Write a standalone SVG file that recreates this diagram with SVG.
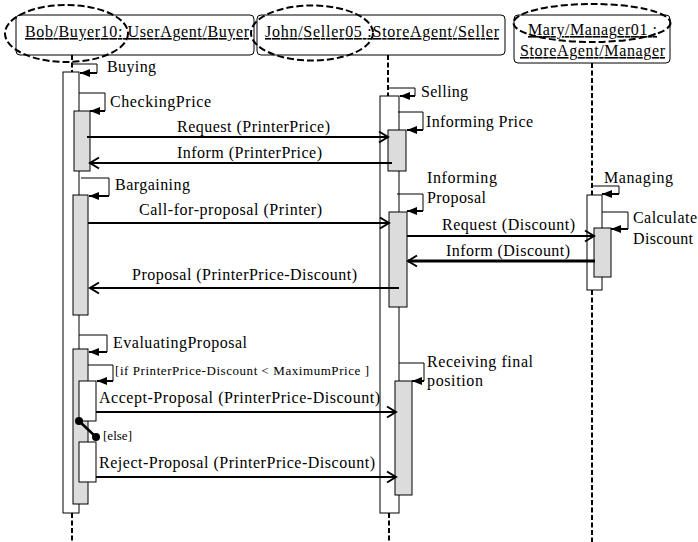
<svg xmlns="http://www.w3.org/2000/svg" width="698" height="542" viewBox="0 0 698 542">
  <style>
    text { font-family: "Liberation Serif", "DejaVu Serif", "Times New Roman", Times, serif; font-size: 16px; fill: #000; }
    .sm { font-size: 13px; }
    .hdr { text-decoration: underline; }
    .box { fill: #fff; stroke: #000; stroke-width: 1; }
    .act { fill: #fff; stroke: #000; stroke-width: 1; }
    .focus { fill: #dcdcdc; stroke: #000; stroke-width: 1; }
    .life { fill: none; stroke: #000; stroke-width: 2; stroke-dasharray: 5 2.5; }
    .oval { fill: none; stroke: #000; stroke-width: 2; stroke-dasharray: 7 3; }
    .msg { fill: none; stroke: #000; stroke-width: 2; marker-end: url(#open); }
    .self { fill: none; stroke: #000; stroke-width: 1; }
    .selfend { fill: none; stroke: #000; stroke-width: 2; marker-end: url(#solid); }
  </style>
  <defs>
    <marker id="open" markerUnits="userSpaceOnUse" markerWidth="12" markerHeight="14" refX="10" refY="7" orient="auto" overflow="visible">
      <path d="M1,1.5 L10,7 L1,12.5" fill="none" stroke="#000" stroke-width="2"/>
    </marker>
    <marker id="solid" markerUnits="userSpaceOnUse" markerWidth="10" markerHeight="8" refX="10" refY="4" orient="auto" overflow="visible">
      <path d="M0,0 L10,4 L0,8 z" fill="#000"/>
    </marker>
  </defs>

  <!-- Buyer lifeline -->
  <g id="buyer">
    <rect class="box" x="16" y="15" width="238" height="40" rx="4"/>
    <text class="hdr" x="25" y="37" textLength="224" font-family="Liberation Serif, serif">Bob/Buyer10: UserAgent/Buyer</text>
    <ellipse class="oval" cx="66.5" cy="33.5" rx="61.5" ry="28.5"/>
    <line class="life" x1="72" y1="55" x2="72" y2="72"/>
    <line class="life" x1="72" y1="513" x2="72" y2="542"/>
    <rect class="act" x="63" y="72" width="16" height="441"/>
    <rect class="focus" x="74" y="111" width="16" height="60"/>
    <rect class="focus" x="73" y="195" width="15" height="120"/>
    <rect class="focus" x="73" y="349" width="15" height="155"/>
    <rect class="act" x="79" y="381" width="17" height="40"/>
    <rect class="act" x="79" y="442" width="17" height="40"/>
  </g>

  <!-- Seller lifeline -->
  <g id="seller">
    <rect class="box" x="257" y="15" width="248" height="40" rx="4"/>
    <text class="hdr" x="265" y="37" textLength="234">John/Seller05 :StoreAgent/Seller</text>
    <ellipse class="oval" cx="312" cy="33" rx="61" ry="27.5"/>
    <line class="life" x1="388" y1="55" x2="388" y2="96"/>
    <line class="life" x1="389" y1="513" x2="389" y2="542"/>
    <rect class="act" x="380" y="96" width="19" height="417"/>
    <rect class="focus" x="388" y="130" width="18" height="41"/>
    <rect class="focus" x="389" y="212" width="18" height="95"/>
    <rect class="focus" x="395" y="381" width="17" height="114"/>
  </g>

  <!-- Manager lifeline -->
  <g id="manager">
    <rect class="box" x="514" y="15" width="156" height="48" rx="4"/>
    <text class="hdr" x="528" y="35" textLength="129">Mary/Manager01 :</text>
    <text class="hdr" x="520" y="56" textLength="145">StoreAgent/Manager</text>
    <ellipse class="oval" cx="592" cy="23" rx="78.5" ry="19"/>
    <line class="life" x1="592" y1="63" x2="592" y2="195"/>
    <line class="life" x1="592" y1="290" x2="592" y2="542"/>
    <rect class="act" x="587" y="195" width="15" height="95"/>
    <rect class="focus" x="594" y="228" width="17" height="49"/>
  </g>

  <!-- Messages and self-calls -->
  <g id="connectors">
    <!-- Buyer self-calls -->
    <polyline class="self" points="72,64 97,64 97,73"/>
    <line class="selfend" x1="97" y1="73" x2="80" y2="73"/>
    <polyline class="self" points="79,93 105,93 105,111"/>
    <line class="selfend" x1="105" y1="111" x2="90" y2="111"/>
    <polyline class="self" points="81,178 109,178 109,196"/>
    <line class="selfend" x1="109" y1="196" x2="89" y2="196"/>
    <polyline class="self" points="79,335 107,335 107,352"/>
    <line class="selfend" x1="107" y1="352" x2="89" y2="352"/>
    <polyline class="self" points="88,365 113,365 113,381"/>
    <line class="selfend" x1="113" y1="381" x2="97" y2="381"/>

    <!-- Seller self-calls -->
    <polyline class="self" points="388,88 415,88 415,96"/>
    <line class="selfend" x1="415" y1="96" x2="400" y2="96"/>
    <polyline class="self" points="398,112 423,112 423,130"/>
    <line class="selfend" x1="423" y1="130" x2="407" y2="130"/>
    <polyline class="self" points="397,194 423,194 423,211"/>
    <line class="selfend" x1="423" y1="211" x2="407" y2="211"/>
    <polyline class="self" points="399,363 424,363 424,381"/>
    <line class="selfend" x1="424" y1="381" x2="412" y2="381"/>

    <!-- Manager self-calls -->
    <polyline class="self" points="592,186 619,186 619,194"/>
    <line class="selfend" x1="619" y1="194" x2="602" y2="194"/>
    <polyline class="self" points="602,212 628,212 628,229"/>
    <line class="selfend" x1="628" y1="229" x2="611" y2="229"/>

    <!-- Messages between agents -->
    <line class="msg" x1="87" y1="137" x2="388" y2="137"/>
    <line class="msg" x1="392" y1="163" x2="90" y2="163"/>
    <line class="msg" x1="88" y1="223" x2="389" y2="223"/>
    <line class="msg" x1="407" y1="236" x2="594" y2="236"/>
    <line class="msg" x1="595" y1="261" x2="408" y2="261" style="stroke-width:3"/>
    <line class="msg" x1="399" y1="288" x2="90" y2="288"/>
    <line class="msg" x1="96" y1="412" x2="396" y2="412"/>
    <line class="msg" x1="96" y1="477" x2="396" y2="477"/>

    <!-- Branch between accept and reject -->
    <line x1="79" y1="421" x2="96" y2="437" stroke="#000" stroke-width="2.5"/>
    <circle cx="79" cy="421" r="4" fill="#000"/>
    <circle cx="96" cy="437" r="4" fill="#000"/>
  </g>

  <!-- Labels -->
  <g id="labels">
    <text x="107" y="72" textLength="49">Buying</text>
    <text x="110" y="107" textLength="101">CheckingPrice</text>
    <text x="177" y="132" textLength="153">Request (PrinterPrice)</text>
    <text x="177" y="158" textLength="145">Inform (PrinterPrice)</text>
    <text x="115" y="190" textLength="75">Bargaining</text>
    <text x="139" y="215" textLength="183">Call-for-proposal (Printer)</text>
    <text x="132" y="280" textLength="225">Proposal (PrinterPrice-Discount)</text>
    <text x="421" y="97" textLength="47">Selling</text>
    <text x="426" y="127" textLength="107">Informing Price</text>
    <text x="427" y="183" textLength="70">Informing</text>
    <text x="427" y="203" textLength="59">Proposal</text>
    <text x="604" y="183" textLength="69">Managing</text>
    <text x="633" y="223" textLength="64">Calculate</text>
    <text x="633" y="244" textLength="60">Discount</text>
    <text x="442" y="230" textLength="133">Request (Discount)</text>
    <text x="446" y="256" textLength="124">Inform (Discount)</text>
    <text x="113" y="348" textLength="134">EvaluatingProposal</text>
    <text class="sm" x="115" y="375" textLength="254">[if PrinterPrice-Discount &lt; MaximumPrice ]</text>
    <text x="99" y="403" textLength="281">Accept-Proposal (PrinterPrice-Discount)</text>
    <text class="sm" x="103" y="440" textLength="29">[else]</text>
    <text x="99" y="468" textLength="276">Reject-Proposal (PrinterPrice-Discount)</text>
    <text x="427" y="367" textLength="106">Receiving final</text>
    <text x="427" y="386" textLength="56">position</text>
  </g>
</svg>
